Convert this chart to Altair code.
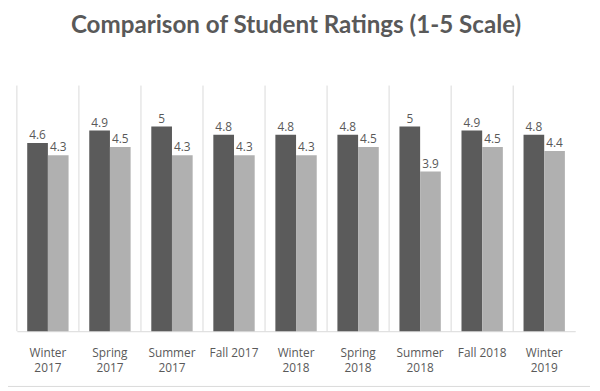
import altair as alt
import pandas as pd

categories = ["Winter 2017", "Spring 2017", "Summer 2017", "Fall 2017", "Winter 2018",
              "Spring 2018", "Summer 2018", "Fall 2018", "Winter 2019"]
series_names = ["Series 1", "Series 2"]
series1 = [4.6, 4.9, 5.0, 4.8, 4.8, 4.8, 5.0, 4.9, 4.8]
series2 = [4.3, 4.5, 4.3, 4.3, 4.3, 4.5, 3.9, 4.5, 4.4]

rows = []
for c, a, b in zip(categories, series1, series2):
    rows.append({"cat": c, "series": series_names[0], "value": a, "label": f"{a:g}"})
    rows.append({"cat": c, "series": series_names[1], "value": b, "label": f"{b:g}"})
df = pd.DataFrame(rows)
cat_df = pd.DataFrame({"cat": categories})

W, H = 566, 249
TXT = "#595959"
GRID = "#d9d9d9"
FONT = "Open Sans"

xscale = alt.Scale(domain=categories, paddingInner=0, paddingOuter=0)
offscale = alt.Scale(domain=series_names, paddingInner=0, paddingOuter=0.5)
yscale = alt.Scale(domain=[0, 6])

bars = alt.Chart(df).mark_bar().encode(
    x=alt.X("cat:N", scale=xscale, title=None,
            axis=alt.Axis(labelAngle=0, ticks=False, domainColor=GRID, labelColor=TXT,
                          labelFont=FONT, labelFontSize=12, labelPadding=17,
                          labelBaseline="top", labelLineHeight=15, grid=False,
                          labelExpr="indexof(datum.label, 'Fall') == 0 ? datum.label : split(datum.label, ' ')")),
    xOffset=alt.XOffset("series:N", scale=offscale),
    y=alt.Y("value:Q", scale=yscale, axis=None),
    color=alt.Color("series:N", scale=alt.Scale(domain=series_names, range=["#5b5b5b", "#b0b0b0"]), legend=None),
)

grid = alt.Chart(cat_df).mark_rule(color=GRID, strokeWidth=1).encode(
    x=alt.X("cat:N", scale=xscale, bandPosition=0),
    y=alt.value(0),
    y2=alt.value(H),
)

labels = alt.Chart(df).mark_text(baseline="alphabetic", dy=-4, font=FONT, fontSize=12, color=TXT).encode(
    x=alt.X("cat:N", scale=xscale),
    xOffset=alt.XOffset("series:N", scale=offscale),
    y=alt.Y("value:Q", scale=yscale),
    text="label:N",
)

border = alt.Chart(cat_df.head(1)).mark_rule(color=GRID).encode(
    x=alt.value(-9), x2=alt.value(581), y=alt.value(305)
)

chart = alt.layer(bars, grid, labels, border).properties(
    width=W, height=H,
    title=alt.TitleParams("Comparison of Student Ratings (1-5 Scale)", font="Lato", fontSize=24.5,
                          fontWeight="bold", color=TXT, anchor="middle", baseline="alphabetic",
                          frame="group", offset=28),
    autosize=alt.AutoSizeParams(type="none"),
    padding={"left": 9, "top": 76, "right": 17, "bottom": 58},
).configure_view(stroke=None)

chart.save("out.html", embed_options={"renderer": "svg", "actions": False})
